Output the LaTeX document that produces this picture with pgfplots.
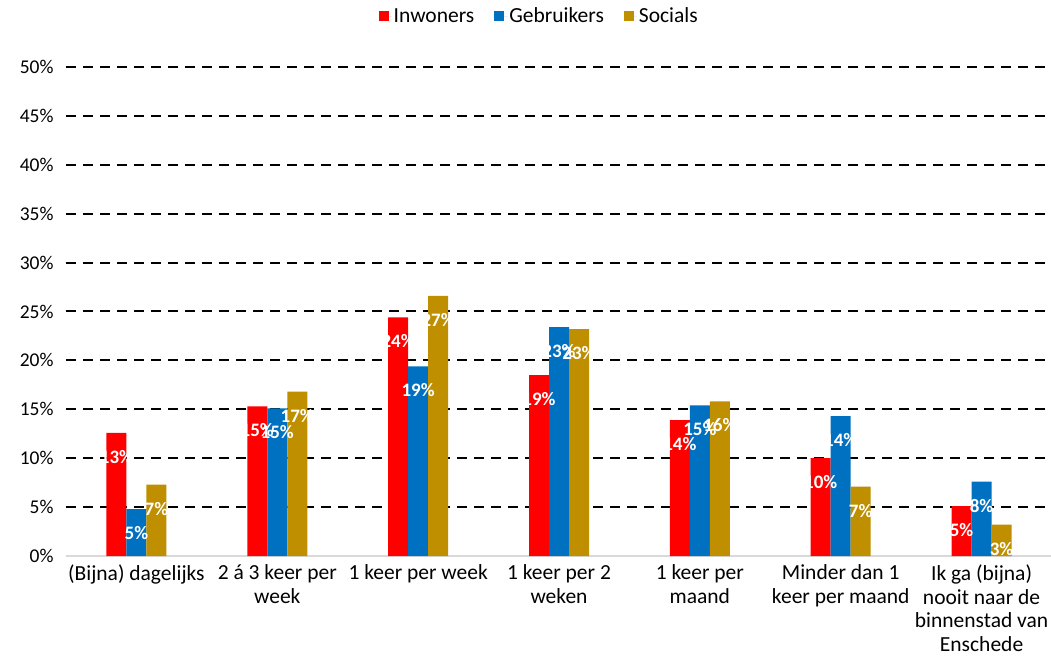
\documentclass[border=0pt]{standalone}
\usepackage{fontspec}
\setmainfont{Carlito}
\usepackage{pgfplots}
\usepackage{pgfplotstable}
\pgfplotsset{compat=1.18}
\definecolor{cred}{HTML}{FF0000}
\definecolor{cblue}{HTML}{0070C0}
\definecolor{cgold}{HTML}{BF8F00}
\definecolor{axgray}{HTML}{D9D9D9}

\pgfplotstableread{
x y lab
0 12.6 13\%
1 15.3 15\%
2 24.4 24\%
3 18.5 19\%
4 13.9 14\%
5 10.0 10\%
6 5.1 5\%
}\inwoners
\pgfplotstableread{
x y lab
0 4.8 5\%
1 15.1 15\%
2 19.4 19\%
3 23.4 23\%
4 15.4 15\%
5 14.3 14\%
6 7.6 8\%
}\gebruikers
\pgfplotstableread{
x y lab
0 7.3 7\%
1 16.8 17\%
2 26.6 27\%
3 23.2 23\%
4 15.8 16\%
5 7.1 7\%
6 3.2 3\%
}\socials

\begin{document}
\begin{tikzpicture}
\useasboundingbox (-65pt,-115pt) rectangle (986pt,556pt);
\begin{axis}[
  at={(1pt,0pt)}, anchor=south west,
  width=986pt, height=489pt, scale only axis,
  xmin=-0.5, xmax=6.5, ymin=0, ymax=50,
  ybar=0pt, bar width=20pt,
  font=\fontsize{20}{23}\selectfont,
  axis x line*=bottom,
  axis y line*=left,
  y axis line style={draw=none},
  x axis line style={axgray, line width=1.5pt, -},
  xtick=data,
  xtick style={draw=none},
  xticklabels={{(Bijna) dagelijks},{2 á 3 keer per\\week},{1 keer per week},{1 keer per 2\\weken},{1 keer per\\maand},{Minder dan 1\\keer per maand},{Ik ga (bijna)\\nooit naar de\\binnenstad van\\Enschede}},
  xticklabel style={align=center, font=\fontsize{21.5}{23.5}\selectfont, yshift=-1pt},
  ytick={5,10,...,50},
  yticklabels={5\%,10\%,15\%,20\%,25\%,30\%,35\%,40\%,45\%,50\%},
  extra y ticks={0}, extra y tick labels={0\%},
  extra y tick style={grid=none},
  ytick style={draw=none},
  yticklabel style={xshift=-9pt, font=\fontsize{19.5}{23}\selectfont},
  ymajorgrids,
  grid style={black, line width=2pt, dash pattern=on 10pt off 7pt},
  nodes near coords,
  point meta=explicit symbolic,
  every node near coord/.append style={anchor=center, yshift=-24pt, text=white, font=\fontsize{19}{20}\selectfont\bfseries},
  legend style={at={(0.48,1.104)}, anchor=center, draw=none, legend columns=3,
    font=\fontsize{21.5}{23}\selectfont,
    /tikz/every even column/.append style={column sep=18pt}},
  legend image code/.code={\fill[#1] (0pt,-5pt) rectangle (10pt,5pt); \path (10pt,0pt) -- (13pt,0pt);},
]
\addplot[fill=cred, draw=none] table[x=x, y=y, meta=lab] {\inwoners};
\addplot[fill=cblue, draw=none] table[x=x, y=y, meta=lab] {\gebruikers};
\addplot[fill=cgold, draw=none] table[x=x, y=y, meta=lab] {\socials};
\legend{Inwoners, Gebruikers, Socials}
\end{axis}
\end{tikzpicture}
\end{document}
